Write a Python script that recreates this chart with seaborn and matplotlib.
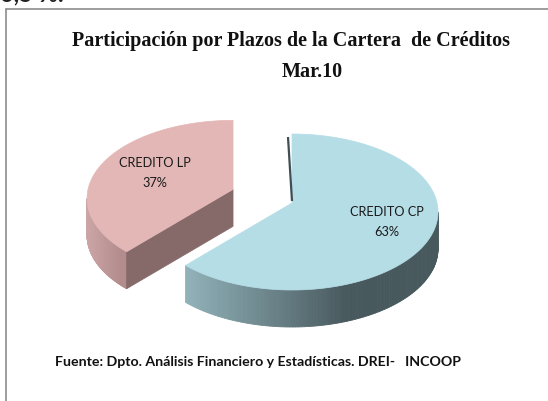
import numpy as np
import matplotlib
matplotlib.use("Agg")
import matplotlib.pyplot as plt
import seaborn as sns
from matplotlib.patches import Polygon

# ---- data ----
categories = ["CREDITO CP", "CREDITO LP"]
values = [63, 37]
title_line1 = "Participación por Plazos de la Cartera  de Créditos"
title_line2 = "Mar.10"
source_text = "Fuente: Dpto. Análisis Financiero y Estadísticas. DREI-   INCOOP"
top_fragment = "6,5 %."

sns.set_theme(style="white")

W, H = 548, 401
fig = plt.figure(figsize=(W / 100, H / 100), dpi=100)
ax = fig.add_axes([0, 0, 1, 1])
ax.set_xlim(0, W)
ax.set_ylim(H, 0)
ax.axis("off")

# ---- layout (pixel-like coordinates) ----
CX, CY = 292, 212      # ellipse centre of the un-exploded slice
RX, RY = 146, 78
APEX_SHIFT = -9        # apex sits a little behind ellipse centre (perspective)
DEPTH = 37
explode = {"CREDITO CP": 0.0, "CREDITO LP": 0.44}
top_colors = {"CREDITO CP": "#b5dde6", "CREDITO LP": "#e4b7b7"}
side_light = {"CREDITO CP": np.array([0x93, 0xb5, 0xbc]) / 255,
              "CREDITO LP": np.array([0xcc, 0xa6, 0xa6]) / 255}
side_dark = {"CREDITO CP": np.array([0x48, 0x59, 0x5e]) / 255,
             "CREDITO LP": np.array([0xb3, 0x8d, 0x8d]) / 255}
radial_color = {"CREDITO CP": "#3f4f54", "CREDITO LP": "#866a6a"}
label_pos = {"CREDITO CP": (387, 222), "CREDITO LP": (155, 173)}

total = float(sum(values))
start = 90.0
slices = []
for cat, v in zip(categories, values):
    sweep = 360.0 * v / total
    a_end = start
    a_start = start - sweep  # clockwise
    slices.append((cat, v, a_start, a_end))
    start = a_start


def pt(cx, cy, th_deg, dz=0.0):
    t = np.deg2rad(th_deg)
    return cx + RX * np.cos(t), cy - RY * np.sin(t) + dz


# draw the exploded (back) slice first
order = sorted(slices, key=lambda s: -explode[s[0]])
for cat, v, a0, a1 in order:
    mid = np.deg2rad((a0 + a1) / 2)
    e = explode[cat]
    cx = CX + e * RX * np.cos(mid)
    cy = CY - e * RY * np.sin(mid)
    ax_, ay_ = cx, cy + APEX_SHIFT

    # outer side (front half only)
    segs = []
    for off in (-360, 0, 360):
        s0 = max(a0 + off, -180)
        s1 = min(a1 + off, 0)
        if s1 > s0:
            segs.append((s0, s1))
    for s0, s1 in segs:
        ths = np.linspace(s0, s1, 120)
        for i in range(len(ths) - 1):
            p1 = pt(cx, cy, ths[i]); p2 = pt(cx, cy, ths[i + 1])
            xm = (p1[0] + p2[0]) / 2
            if cat == "CREDITO CP":
                t = np.clip((xm - (cx - 110)) / 165.0, 0, 1)
            else:
                t = np.clip((xm - (cx - RX)) / 35.0, 0, 1)
            col = side_light[cat] * (1 - t) + side_dark[cat] * t
            poly = [p1, p2, (p2[0], p2[1] + DEPTH), (p1[0], p1[1] + DEPTH)]
            ax.add_patch(Polygon(poly, closed=True, facecolor=col,
                                 edgecolor=col, lw=0.6))

    # radial face at the clockwise-start edge of the exploded slice (faces front)
    if cat == "CREDITO LP":
        pe = pt(cx, cy, a1)
        poly = [(ax_, ay_), pe, (pe[0], pe[1] + DEPTH), (ax_, ay_ + DEPTH)]
        ax.add_patch(Polygon(poly, closed=True, facecolor=radial_color[cat],
                             edgecolor=radial_color[cat], lw=0.5))

    # top face
    ths = np.linspace(a0, a1, 200)
    arc = [pt(cx, cy, t) for t in ths]
    poly = [(ax_, ay_)] + arc
    ax.add_patch(Polygon(poly, closed=True, facecolor=top_colors[cat],
                         edgecolor=top_colors[cat], lw=0.5))

    # thin visible sliver of the vertical radial face at 90 deg
    if cat == "CREDITO CP":
        ptop = pt(cx, cy, 90)
        ax.plot([ptop[0] - 4, ax_], [ptop[1] + 3, ay_ - 2],
                color=radial_color[cat], lw=1.6, solid_capstyle="butt")

    lx, ly = label_pos[cat]
    ax.text(lx, ly, f"{cat}\n{v}%", ha="center", va="center",
            fontsize=9.2, family=["Lato", "DejaVu Sans"], color="#1a1a1a",
            linespacing=1.75)

# frame lines and texts
ax.plot([5.5, 5.5], [8.5, H], color="#8c8c8c", lw=1.2)
ax.plot([5.5, W], [8.5, 8.5], color="#8c8c8c", lw=1.2)
ax.text(0, 1.5, top_fragment, ha="left", va="baseline", fontsize=17,
        fontweight="bold", family=["Lato", "DejaVu Sans"], color="#222222")

ax.text(291, 41, title_line1, ha="center", va="center", fontsize=14.5,
        fontweight="bold", family=["Liberation Serif", "DejaVu Serif"],
        color="#111111")
ax.text(312, 72, title_line2, ha="center", va="center", fontsize=14.5,
        fontweight="bold", family=["Liberation Serif", "DejaVu Serif"],
        color="#111111")
ax.text(258, 362, source_text, ha="center", va="center", fontsize=10.2,
        fontweight="bold", family=["Lato", "DejaVu Sans"], color="#111111")

fig.savefig("out.png", dpi=100)
